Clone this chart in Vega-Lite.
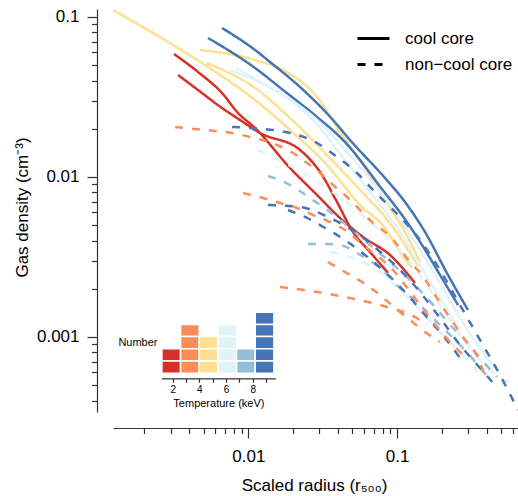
{
  "$schema": "https://vega.github.io/schema/vega-lite/v6.json",
  "width": 405,
  "height": 403,
  "autosize": {"type": "none"},
  "padding": {"left": 113, "top": 9, "right": 0, "bottom": 84},
  "background": "white",
  "config": {
    "font": "Liberation Sans",
    "view": {"stroke": null},
    "axis": {"grid": false, "domainColor": "#333333", "tickColor": "#333333", "labelColor": "black", "titleColor": "black", "titleFontWeight": "normal", "domainWidth": 1.2, "tickWidth": 1.2}
  },
  "datasets": {
    "clusters": [
      {"id": "R1", "temperature": 1.8, "core": "cool core"},
      {"id": "R2", "temperature": 2.2, "core": "cool core"},
      {"id": "O1", "temperature": 2.9, "core": "non−cool core"},
      {"id": "O2", "temperature": 3.2, "core": "non−cool core"},
      {"id": "O3", "temperature": 3.5, "core": "non−cool core"},
      {"id": "O4", "temperature": 3.8, "core": "non−cool core"},
      {"id": "Y1", "temperature": 4.3, "core": "cool core"},
      {"id": "Y2", "temperature": 4.7, "core": "cool core"},
      {"id": "Y3", "temperature": 5.1, "core": "cool core"},
      {"id": "C1", "temperature": 5.6, "core": "cool core"},
      {"id": "C2", "temperature": 5.9, "core": "cool core"},
      {"id": "C3", "temperature": 6.2, "core": "non−cool core"},
      {"id": "C4", "temperature": 6.5, "core": "non−cool core"},
      {"id": "M1", "temperature": 7.2, "core": "non−cool core"},
      {"id": "M2", "temperature": 7.7, "core": "non−cool core"},
      {"id": "D1", "temperature": 8.4, "core": "cool core"},
      {"id": "D2", "temperature": 8.7, "core": "cool core"},
      {"id": "D3", "temperature": 8.9, "core": "non−cool core"},
      {"id": "D4", "temperature": 9.1, "core": "non−cool core"},
      {"id": "D5", "temperature": 9.4, "core": "non−cool core"}
    ],
    "profiles": [
      {"id": "R1", "r": 0.003165, "n": 0.05861}, {"id": "R1", "r": 0.004589, "n": 0.04524}, {"id": "R1", "r": 0.006654, "n": 0.03344}, {"id": "R1", "r": 0.008527, "n": 0.02507}, {"id": "R1", "r": 0.0111, "n": 0.02021}, {"id": "R1", "r": 0.01908, "n": 0.01136}, {"id": "R1", "r": 0.02897, "n": 0.007705}, {"id": "R1", "r": 0.04137, "n": 0.005534}, {"id": "R1", "r": 0.05908, "n": 0.004211}, {"id": "R1", "r": 0.08972, "n": 0.003249}, {"id": "R1", "r": 0.1321, "n": 0.002172},
      {"id": "R2", "r": 0.003367, "n": 0.04334}, {"id": "R2", "r": 0.004589, "n": 0.03492}, {"id": "R2", "r": 0.006654, "n": 0.02694}, {"id": "R2", "r": 0.008795, "n": 0.02267}, {"id": "R2", "r": 0.01199, "n": 0.01881}, {"id": "R2", "r": 0.02227, "n": 0.01473}, {"id": "R2", "r": 0.03035, "n": 0.01073}, {"id": "R2", "r": 0.0395, "n": 0.006966}, {"id": "R2", "r": 0.0506, "n": 0.004524}, {"id": "R2", "r": 0.06583, "n": 0.003393}, {"id": "R2", "r": 0.08699, "n": 0.002507},
      {"id": "Y1", "r": 0.00123, "n": 0.1104}, {"id": "Y1", "r": 0.002884, "n": 0.06967}, {"id": "Y1", "r": 0.005114, "n": 0.05004}, {"id": "Y1", "r": 0.0111, "n": 0.03023}, {"id": "Y1", "r": 0.01908, "n": 0.01964}, {"id": "Y1", "r": 0.03382, "n": 0.01187}, {"id": "Y1", "r": 0.05639, "n": 0.006674}, {"id": "Y1", "r": 0.08304, "n": 0.004792}, {"id": "Y1", "r": 0.108, "n": 0.003249}, {"id": "Y1", "r": 0.1262, "n": 0.002694},
      {"id": "Y2", "r": 0.004734, "n": 0.06209}, {"id": "Y2", "r": 0.0111, "n": 0.05377}, {"id": "Y2", "r": 0.01712, "n": 0.04656}, {"id": "Y2", "r": 0.02897, "n": 0.03158}, {"id": "Y2", "r": 0.04267, "n": 0.01827}, {"id": "Y2", "r": 0.06093, "n": 0.01136}, {"id": "Y2", "r": 0.08304, "n": 0.007171}, {"id": "Y2", "r": 0.1132, "n": 0.004524}, {"id": "Y2", "r": 0.1428, "n": 0.002938},
      {"id": "Y3", "r": 0.005277, "n": 0.0515}, {"id": "Y3", "r": 0.0111, "n": 0.03593}, {"id": "Y3", "r": 0.01908, "n": 0.02334}, {"id": "Y3", "r": 0.03382, "n": 0.01371}, {"id": "Y3", "r": 0.05639, "n": 0.008281}, {"id": "Y3", "r": 0.08304, "n": 0.005617}, {"id": "Y3", "r": 0.1132, "n": 0.003752}, {"id": "Y3", "r": 0.1384, "n": 0.002773},
      {"id": "D1", "r": 0.006654, "n": 0.08524}, {"id": "D1", "r": 0.0111, "n": 0.06209}, {"id": "D1", "r": 0.01399, "n": 0.05224}, {"id": "D1", "r": 0.02227, "n": 0.03646}, {"id": "D1", "r": 0.03712, "n": 0.02267}, {"id": "D1", "r": 0.0483, "n": 0.017}, {"id": "D1", "r": 0.08304, "n": 0.009842}, {"id": "D1", "r": 0.1132, "n": 0.006966}, {"id": "D1", "r": 0.1543, "n": 0.004524}, {"id": "D1", "r": 0.2203, "n": 0.002437}, {"id": "D1", "r": 0.3003, "n": 0.001473},
      {"id": "D2", "r": 0.005358, "n": 0.0738}, {"id": "D2", "r": 0.0111, "n": 0.04792}, {"id": "D2", "r": 0.01712, "n": 0.03492}, {"id": "D2", "r": 0.02897, "n": 0.02368}, {"id": "D2", "r": 0.04334, "n": 0.017}, {"id": "D2", "r": 0.08304, "n": 0.00793}, {"id": "D2", "r": 0.108, "n": 0.005778}, {"id": "D2", "r": 0.1473, "n": 0.003752}, {"id": "D2", "r": 0.1947, "n": 0.002437}, {"id": "D2", "r": 0.2572, "n": 0.001582},
      {"id": "C1", "r": 0.007532, "n": 0.04656}, {"id": "C1", "r": 0.0111, "n": 0.04033}, {"id": "C1", "r": 0.01712, "n": 0.0325}, {"id": "C1", "r": 0.02897, "n": 0.02267}, {"id": "C1", "r": 0.0447, "n": 0.01473}, {"id": "C1", "r": 0.0679, "n": 0.009292}, {"id": "C1", "r": 0.09696, "n": 0.006033}, {"id": "C1", "r": 0.1428, "n": 0.003492}, {"id": "C1", "r": 0.1947, "n": 0.002172}, {"id": "C1", "r": 0.2653, "n": 0.001313}, {"id": "C1", "r": 0.3616, "n": 0.0008524}, {"id": "C1", "r": 0.456, "n": 0.0006391},
      {"id": "C2", "r": 0.008266, "n": 0.04792}, {"id": "C2", "r": 0.01199, "n": 0.03918}, {"id": "C2", "r": 0.01908, "n": 0.03023}, {"id": "C2", "r": 0.03035, "n": 0.02021}, {"id": "C2", "r": 0.0447, "n": 0.01275}, {"id": "C2", "r": 0.06583, "n": 0.008043}, {"id": "C2", "r": 0.09696, "n": 0.005004}, {"id": "C2", "r": 0.1384, "n": 0.002938}, {"id": "C2", "r": 0.1947, "n": 0.001749}, {"id": "C2", "r": 0.2653, "n": 0.001104},
      {"id": "C3", "r": 0.01162, "n": 0.01473}, {"id": "C3", "r": 0.01712, "n": 0.01239}, {"id": "C3", "r": 0.02482, "n": 0.01028}, {"id": "C3", "r": 0.03543, "n": 0.008281}, {"id": "C3", "r": 0.0483, "n": 0.006674}, {"id": "C3", "r": 0.06583, "n": 0.005224}, {"id": "C3", "r": 0.08972, "n": 0.004033}, {"id": "C3", "r": 0.1223, "n": 0.002938}, {"id": "C3", "r": 0.1667, "n": 0.001964}, {"id": "C3", "r": 0.2272, "n": 0.001275}, {"id": "C3", "r": 0.3097, "n": 0.0008524}, {"id": "C3", "r": 0.4221, "n": 0.0006209}, {"id": "C3", "r": 0.5324, "n": 0.0005377}, {"id": "C3", "r": 0.6512, "n": 0.0004862},
      {"id": "C4", "r": 0.03543, "n": 0.003393}, {"id": "C4", "r": 0.0483, "n": 0.003158}, {"id": "C4", "r": 0.05908, "n": 0.002938}, {"id": "C4", "r": 0.07685, "n": 0.002543}, {"id": "C4", "r": 0.1047, "n": 0.001964}, {"id": "C4", "r": 0.1428, "n": 0.001473}, {"id": "C4", "r": 0.1947, "n": 0.001073}, {"id": "C4", "r": 0.2653, "n": 0.0008043}, {"id": "C4", "r": 0.3506, "n": 0.0006033},
      {"id": "M1", "r": 0.01357, "n": 0.01013}, {"id": "M1", "r": 0.01908, "n": 0.008899}, {"id": "M1", "r": 0.026, "n": 0.007379}, {"id": "M1", "r": 0.03543, "n": 0.006033}, {"id": "M1", "r": 0.0483, "n": 0.004792}, {"id": "M1", "r": 0.06583, "n": 0.003752}, {"id": "M1", "r": 0.08972, "n": 0.002938}, {"id": "M1", "r": 0.1321, "n": 0.00211}, {"id": "M1", "r": 0.1802, "n": 0.001537}, {"id": "M1", "r": 0.2344, "n": 0.001153}, {"id": "M1", "r": 0.2867, "n": 0.0009563}, {"id": "M1", "r": 0.3616, "n": 0.0007379}, {"id": "M1", "r": 0.4705, "n": 0.0005617},
      {"id": "M2", "r": 0.02521, "n": 0.003806}, {"id": "M2", "r": 0.0328, "n": 0.003806}, {"id": "M2", "r": 0.04137, "n": 0.003752}, {"id": "M2", "r": 0.05383, "n": 0.003344}, {"id": "M2", "r": 0.07685, "n": 0.002694}, {"id": "M2", "r": 0.1047, "n": 0.002021}, {"id": "M2", "r": 0.1428, "n": 0.001582}, {"id": "M2", "r": 0.1947, "n": 0.001187}, {"id": "M2", "r": 0.2653, "n": 0.0008899}, {"id": "M2", "r": 0.3506, "n": 0.0006674}, {"id": "M2", "r": 0.4221, "n": 0.0005377},
      {"id": "D3", "r": 0.007771, "n": 0.0205}, {"id": "D3", "r": 0.01027, "n": 0.02021}, {"id": "D3", "r": 0.01908, "n": 0.01881}, {"id": "D3", "r": 0.02897, "n": 0.01629}, {"id": "D3", "r": 0.0395, "n": 0.01332}, {"id": "D3", "r": 0.05383, "n": 0.01058}, {"id": "D3", "r": 0.06897, "n": 0.008281}, {"id": "D3", "r": 0.08972, "n": 0.006484}, {"id": "D3", "r": 0.1097, "n": 0.005377}, {"id": "D3", "r": 0.1428, "n": 0.004033}, {"id": "D3", "r": 0.1947, "n": 0.002618}, {"id": "D3", "r": 0.2653, "n": 0.001582}, {"id": "D3", "r": 0.3616, "n": 0.0009563}, {"id": "D3", "r": 0.4928, "n": 0.0005778}, {"id": "D3", "r": 0.6512, "n": 0.0003492},
      {"id": "D4", "r": 0.01357, "n": 0.006674}, {"id": "D4", "r": 0.02227, "n": 0.006484}, {"id": "D4", "r": 0.03543, "n": 0.005534}, {"id": "D4", "r": 0.0522, "n": 0.004524}, {"id": "D4", "r": 0.07451, "n": 0.003492}, {"id": "D4", "r": 0.1047, "n": 0.002618}, {"id": "D4", "r": 0.1428, "n": 0.001908}, {"id": "D4", "r": 0.1947, "n": 0.001313}, {"id": "D4", "r": 0.2653, "n": 0.0008899}, {"id": "D4", "r": 0.3616, "n": 0.0006391}, {"id": "D4", "r": 0.456, "n": 0.0005004},
      {"id": "D5", "r": 0.01849, "n": 0.006209}, {"id": "D5", "r": 0.02406, "n": 0.005617}, {"id": "D5", "r": 0.0328, "n": 0.004792}, {"id": "D5", "r": 0.0447, "n": 0.004033}, {"id": "D5", "r": 0.06093, "n": 0.003249}, {"id": "D5", "r": 0.08304, "n": 0.002543}, {"id": "D5", "r": 0.1132, "n": 0.001908}, {"id": "D5", "r": 0.1543, "n": 0.00137}, {"id": "D5", "r": 0.2103, "n": 0.0009842}, {"id": "D5", "r": 0.2653, "n": 0.0007379},
      {"id": "O1", "r": 0.003214, "n": 0.0205}, {"id": "O1", "r": 0.004382, "n": 0.01992}, {"id": "O1", "r": 0.005971, "n": 0.01936}, {"id": "O1", "r": 0.007771, "n": 0.01881}, {"id": "O1", "r": 0.01027, "n": 0.01775}, {"id": "O1", "r": 0.0156, "n": 0.01582}, {"id": "O1", "r": 0.01998, "n": 0.01411}, {"id": "O1", "r": 0.02482, "n": 0.01221}, {"id": "O1", "r": 0.03035, "n": 0.01058}, {"id": "O1", "r": 0.03712, "n": 0.008899}, {"id": "O1", "r": 0.04611, "n": 0.007486}, {"id": "O1", "r": 0.05639, "n": 0.006209}, {"id": "O1", "r": 0.0679, "n": 0.005224}, {"id": "O1", "r": 0.08304, "n": 0.004524}, {"id": "O1", "r": 0.09696, "n": 0.003918}, {"id": "O1", "r": 0.1223, "n": 0.002938}, {"id": "O1", "r": 0.1473, "n": 0.002437}, {"id": "O1", "r": 0.1802, "n": 0.001827}, {"id": "O1", "r": 0.2272, "n": 0.001313}, {"id": "O1", "r": 0.2867, "n": 0.0009563}, {"id": "O1", "r": 0.3506, "n": 0.0007379}, {"id": "O1", "r": 0.3906, "n": 0.0005695},
      {"id": "O2", "r": 0.009213, "n": 0.00793}, {"id": "O2", "r": 0.01256, "n": 0.007379}, {"id": "O2", "r": 0.01634, "n": 0.006868}, {"id": "O2", "r": 0.02126, "n": 0.006391}, {"id": "O2", "r": 0.02724, "n": 0.005778}, {"id": "O2", "r": 0.03543, "n": 0.005224}, {"id": "O2", "r": 0.04682, "n": 0.004524}, {"id": "O2", "r": 0.05908, "n": 0.003752}, {"id": "O2", "r": 0.07685, "n": 0.003112}, {"id": "O2", "r": 0.09399, "n": 0.002618}, {"id": "O2", "r": 0.1132, "n": 0.00211}, {"id": "O2", "r": 0.1384, "n": 0.001652}, {"id": "O2", "r": 0.1667, "n": 0.001313}, {"id": "O2", "r": 0.2008, "n": 0.001058}, {"id": "O2", "r": 0.2455, "n": 0.0008648}, {"id": "O2", "r": 0.3003, "n": 0.0007171},
      {"id": "O3", "r": 0.03436, "n": 0.002938}, {"id": "O3", "r": 0.0447, "n": 0.002543}, {"id": "O3", "r": 0.05816, "n": 0.002203}, {"id": "O3", "r": 0.07685, "n": 0.001827}, {"id": "O3", "r": 0.09696, "n": 0.001515}, {"id": "O3", "r": 0.1223, "n": 0.001275}, {"id": "O3", "r": 0.1543, "n": 0.001073}, {"id": "O3", "r": 0.1947, "n": 0.0009291},
      {"id": "O4", "r": 0.01634, "n": 0.00205}, {"id": "O4", "r": 0.02897, "n": 0.001908}, {"id": "O4", "r": 0.0483, "n": 0.001749}, {"id": "O4", "r": 0.08565, "n": 0.001537}, {"id": "O4", "r": 0.1321, "n": 0.001332}, {"id": "O4", "r": 0.1592, "n": 0.001187}
    ]
  },
  "resolve": {
    "scale": {"x": "independent", "y": "independent"},
    "axis": {"x": "independent", "y": "independent"}
  },
  "layer": [
    {
      "data": {"name": "profiles"},
      "transform": [
        {"lookup": "id", "from": {"data": {"values": [
          {"id": "R1", "temperature": 1.8, "core": "cool core"},
          {"id": "R2", "temperature": 2.2, "core": "cool core"},
          {"id": "O1", "temperature": 2.9, "core": "non−cool core"},
          {"id": "O2", "temperature": 3.2, "core": "non−cool core"},
          {"id": "O3", "temperature": 3.5, "core": "non−cool core"},
          {"id": "O4", "temperature": 3.8, "core": "non−cool core"},
          {"id": "Y1", "temperature": 4.3, "core": "cool core"},
          {"id": "Y2", "temperature": 4.7, "core": "cool core"},
          {"id": "Y3", "temperature": 5.1, "core": "cool core"},
          {"id": "C1", "temperature": 5.6, "core": "cool core"},
          {"id": "C2", "temperature": 5.9, "core": "cool core"},
          {"id": "C3", "temperature": 6.2, "core": "non−cool core"},
          {"id": "C4", "temperature": 6.5, "core": "non−cool core"},
          {"id": "M1", "temperature": 7.2, "core": "non−cool core"},
          {"id": "M2", "temperature": 7.7, "core": "non−cool core"},
          {"id": "D1", "temperature": 8.4, "core": "cool core"},
          {"id": "D2", "temperature": 8.7, "core": "cool core"},
          {"id": "D3", "temperature": 8.9, "core": "non−cool core"},
          {"id": "D4", "temperature": 9.1, "core": "non−cool core"},
          {"id": "D5", "temperature": 9.4, "core": "non−cool core"}
        ]}, "key": "id", "fields": ["temperature", "core"]}}
      ],
      "mark": {"type": "line", "strokeWidth": 2.5, "interpolate": "monotone", "clip": true, "strokeCap": "butt"},
      "encoding": {
        "x": {
          "field": "r", "type": "quantitative",
          "scale": {"type": "log", "domain": [0.00123, 0.6512], "nice": false},
          "axis": {"orient": "bottom", "offset": 16, "values": [0.01, 0.1], "format": "~g", "tickSize": 10, "labelFontSize": 17, "labelPadding": 10, "title": "Scaled radius (r₅₀₀)", "titleFontSize": 17, "titleX": 201, "titleY": 57, "titleBaseline": "middle", "titleAlign": "center"}
        },
        "y": {
          "field": "n", "type": "quantitative",
          "scale": {"type": "log", "domain": [0.0003393, 0.112], "nice": false},
          "axis": {"orient": "left", "offset": 16, "values": [0.001, 0.01, 0.1], "format": "~g", "tickSize": 10, "labelFontSize": 17, "labelPadding": 8, "title": "Gas density (cm⁻³)", "titleFontSize": 17, "titleX": -75, "titleY": 198, "titleAngle": 270, "titleBaseline": "middle", "titleAlign": "center"}
        },
        "color": {
          "field": "temperature", "type": "quantitative",
          "scale": {"type": "threshold", "domain": [2.55, 3.95, 5.35, 6.75, 8.15], "range": ["#d73027", "#fc8d59", "#fee090", "#e0f3f8", "#91bfdb", "#4575b4"]},
          "legend": null
        },
        "strokeDash": {
          "field": "core", "type": "nominal",
          "scale": {"domain": ["cool core", "non−cool core"], "range": [[1, 0], [8, 9]]},
          "legend": {"title": null, "orient": "none", "legendX": 243, "legendY": 12, "symbolType": "stroke", "symbolSize": 1024, "symbolStrokeWidth": 2.8, "symbolStrokeColor": "black", "labelFontSize": 17, "labelOffset": 14, "padding": 0, "rowPadding": -3}
        },
        "detail": {"field": "id"}
      }
    },
    {
      "data": {"name": "profiles"},
      "mark": {"type": "point", "opacity": 0},
      "encoding": {
        "x": {
          "field": "r", "type": "quantitative",
          "scale": {"type": "log", "domain": [0.00123, 0.6512], "nice": false},
          "axis": {"orient": "bottom", "offset": 16, "values": [0.002, 0.003, 0.004, 0.005, 0.006, 0.007, 0.008, 0.009, 0.02, 0.03, 0.04, 0.05, 0.06, 0.07, 0.08, 0.09, 0.2, 0.3, 0.4, 0.5, 0.6], "labels": false, "domain": false, "tickSize": 5.5, "title": null}
        },
        "y": {
          "field": "n", "type": "quantitative",
          "scale": {"type": "log", "domain": [0.0003393, 0.112], "nice": false},
          "axis": {"orient": "left", "offset": 16, "values": [0.0004, 0.0005, 0.0006, 0.0007, 0.0008, 0.0009, 0.002, 0.003, 0.004, 0.005, 0.006, 0.007, 0.008, 0.009, 0.02, 0.03, 0.04, 0.05, 0.06, 0.07, 0.08, 0.09], "labels": false, "domain": false, "tickSize": 5.5, "title": null}
        }
      }
    },
    {
      "data": {"name": "clusters"},
      "mark": {"type": "bar", "stroke": "white", "strokeWidth": 1.5, "binSpacing": 0},
      "encoding": {
        "x": {
          "field": "temperature", "type": "quantitative",
          "bin": {"extent": [1.15, 9.55], "step": 1.4, "nice": false},
          "scale": {"domain": [1.15, 9.7], "range": [48.4, 162.4], "nice": false, "zero": false},
          "axis": {"orient": "bottom", "offset": -33.7, "values": [2, 3, 4, 5, 6, 7, 8, 9], "labelExpr": "datum.value % 2 == 0 ? datum.label : ''", "tickSize": 4, "labelFontSize": 10, "labelPadding": 2, "title": "Temperature (keV)", "titleFontSize": 11, "titlePadding": 3}
        },
        "y": {
          "aggregate": "count", "type": "quantitative",
          "scale": {"domain": [0, 5], "range": [364.2, 303.2], "nice": false},
          "axis": {"orient": "left", "offset": -48, "domain": false, "ticks": false, "labels": false, "title": "Number", "titleAngle": 0, "titleAlign": "right", "titleBaseline": "middle", "titleX": -4, "titleY": 333.3, "titleFontSize": 11}
        },
        "color": {
          "field": "temperature", "type": "quantitative",
          "scale": {"type": "threshold", "domain": [2.55, 3.95, 5.35, 6.75, 8.15], "range": ["#d73027", "#fc8d59", "#fee090", "#e0f3f8", "#91bfdb", "#4575b4"]},
          "legend": null
        },
        "detail": {"field": "id"}
      }
    }
  ]
}
